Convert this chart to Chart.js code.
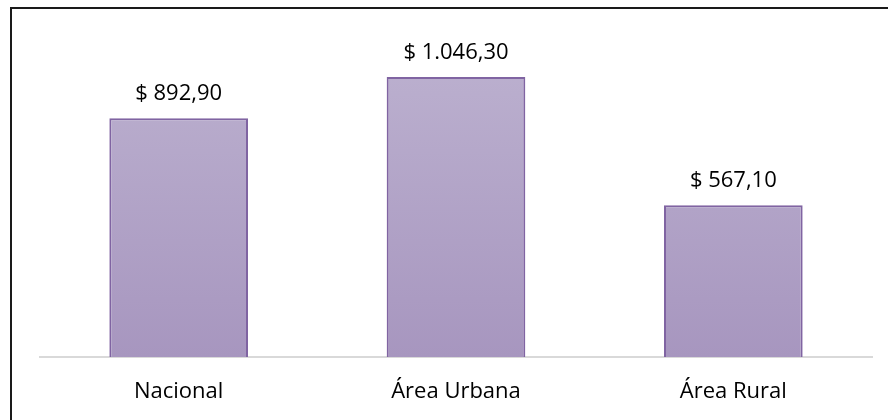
<!DOCTYPE html>
<html>
<head>
<meta charset="utf-8">
<script src="https://cdn.jsdelivr.net/npm/chart.js@4/dist/chart.umd.min.js"></script>
<style>
  html, body { margin: 0; padding: 0; background: #fff; overflow: hidden; }
  #wrap { position: relative; width: 888px; height: 420px; }
  #frame {
    position: absolute; left: 10px; top: 7px; width: 900px; height: 440px;
    border: 2px solid #1a1a1a; box-sizing: border-box; pointer-events: none;
  }
</style>
</head>
<body>
<div id="wrap">
  <canvas id="chart" width="888" height="420"></canvas>
  <div id="frame"></div>
</div>
<script>
const categories = ["Nacional", "Área Urbana", "Área Rural"];
const values = [892.90, 1046.30, 567.10];
const valueLabels = ["$ 892,90", "$ 1.046,30", "$ 567,10"];

const FONT = "'Open Sans', sans-serif";

function barGradient(context) {
  const area = context.chart.chartArea;
  if (!area) return "#B3A6C8";
  const g = context.chart.ctx.createLinearGradient(0, area.top, 0, area.bottom);
  g.addColorStop(0, "#BDB2D0");
  g.addColorStop(1, "#A796BF");
  return g;
}

// draws the "$ ..." labels above each bar
const valueLabelPlugin = {
  id: "valueLabels",
  afterDatasetsDraw(chart) {
    const ctx = chart.ctx;
    const meta = chart.getDatasetMeta(0);
    ctx.save();
    ctx.font = "22px " + FONT;
    ctx.fillStyle = "#000";
    ctx.textAlign = "center";
    ctx.textBaseline = "alphabetic";
    meta.data.forEach((bar, i) => {
      ctx.fillText(valueLabels[i], bar.x, bar.y - 18);
    });
    ctx.restore();
  }
};

const ctx = document.getElementById("chart").getContext("2d");

new Chart(ctx, {
  type: "bar",
  data: {
    labels: categories,
    datasets: [{
      data: values,
      backgroundColor: barGradient,
      borderColor: "#8064A2",
      borderWidth: 2,
      borderSkipped: "bottom",
      barPercentage: 0.5,
      categoryPercentage: 1
    }]
  },
  options: {
    responsive: false,
    animation: false,
    layout: { padding: { left: 40, right: 16, top: 36, bottom: 0 } },
    plugins: {
      legend: { display: false },
      tooltip: { enabled: false }
    },
    scales: {
      x: {
        grid: { display: false },
        border: { display: true, color: "#D9D9D9", width: 2 },
        ticks: { color: "#000", font: { size: 22, family: FONT }, padding: 14 },
        afterFit(axis) { axis.height = 63; }
      },
      y: {
        display: false,
        min: 0,
        max: 1200
      }
    }
  },
  plugins: [valueLabelPlugin]
});
</script>
</body>
</html>
